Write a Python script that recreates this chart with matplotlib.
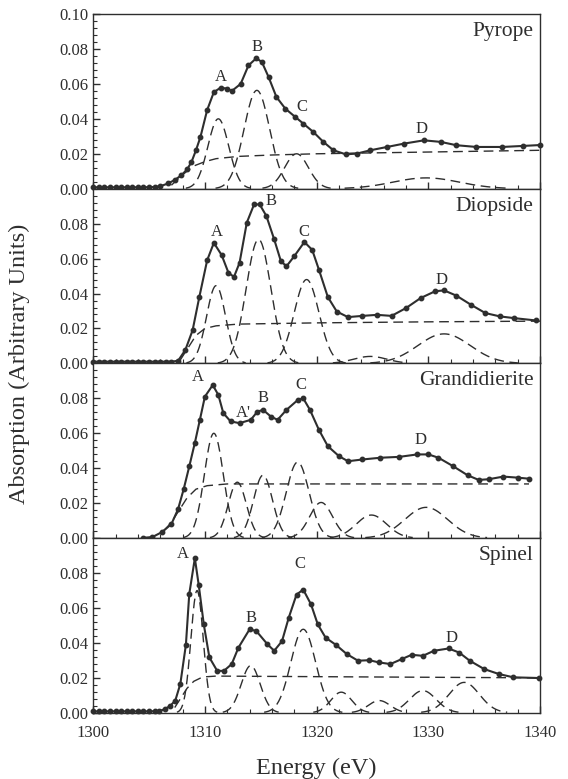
import numpy as np
import matplotlib.pyplot as plt
from matplotlib.ticker import MultipleLocator, FormatStrFormatter

plt.rcParams['font.family'] = ['Liberation Serif', 'DejaVu Serif']

minerals = ["Pyrope", "Diopside", "Grandidierite", "Spinel"]

pyrope_e = [1300, 1300.5, 1301, 1301.5, 1302, 1302.5, 1303, 1303.5, 1304, 1304.5, 1305, 1305.5, 1306,
            1306.7, 1307.3, 1307.9, 1308.4, 1308.8, 1309.2, 1309.6, 1310.2, 1310.8, 1311.4, 1312.0, 1312.4,
            1313.2, 1313.9, 1314.6, 1315.1, 1315.7, 1316.4, 1317.2, 1318.1, 1318.8, 1319.7, 1320.6, 1321.5,
            1322.6, 1323.6, 1324.8, 1326.3, 1327.8, 1329.6, 1331.1, 1332.5, 1334.3, 1336.6, 1338.5, 1340]
pyrope_abs = [0.0008, 0.0008, 0.0008, 0.0008, 0.0008, 0.0008, 0.0008, 0.0008, 0.0008, 0.0008, 0.0009, 0.0010, 0.0014,
              0.0030, 0.0050, 0.0077, 0.0110, 0.0153, 0.0220, 0.0296, 0.0450, 0.0553, 0.0578, 0.0573, 0.0559,
              0.0600, 0.0706, 0.0747, 0.0725, 0.0639, 0.0525, 0.0458, 0.0410, 0.0373, 0.0325, 0.0268, 0.0220,
              0.0197, 0.0201, 0.0220, 0.0239, 0.0258, 0.0277, 0.0268, 0.0249, 0.0239, 0.0239, 0.0245, 0.0250]

diopside_e = [1300, 1300.5, 1301, 1301.5, 1302, 1302.5, 1303, 1303.5, 1304, 1304.5, 1305, 1305.5, 1306, 1306.5,
              1307, 1307.6, 1308.25, 1308.9, 1309.5, 1310.2, 1310.8, 1311.5, 1312.1, 1312.6, 1313.1, 1313.75,
              1314.4, 1314.9, 1315.5, 1316.2, 1316.8, 1317.3, 1318.0, 1318.9, 1319.6, 1320.2, 1321.0, 1321.8,
              1322.8, 1324.1, 1325.4, 1326.7, 1328.0, 1329.3, 1330.6, 1331.4, 1332.5, 1333.8, 1335.1, 1336.4,
              1337.7, 1339.6]
diopside_abs = [0.001, 0.001, 0.001, 0.001, 0.001, 0.001, 0.001, 0.001, 0.001, 0.001, 0.001, 0.001, 0.001, 0.001,
                0.001, 0.0015, 0.0077, 0.019, 0.038, 0.059, 0.069, 0.062, 0.052, 0.0495, 0.0576, 0.0806,
                0.091, 0.091, 0.0844, 0.071, 0.0585, 0.0556, 0.0614, 0.0695, 0.065, 0.0537, 0.038, 0.0297,
                0.0265, 0.0272, 0.0278, 0.0272, 0.0317, 0.0374, 0.0413, 0.0418, 0.0388, 0.0336, 0.0288, 0.0269,
                0.0259, 0.0246]

grandidierite_e = [1304.5, 1305.3, 1306.15, 1307.0, 1307.6, 1308.1, 1308.6, 1309.1, 1309.55, 1310.0, 1310.7,
                   1311.2, 1311.65, 1312.3, 1313.1, 1314.1, 1314.7, 1315.2, 1315.9, 1316.5, 1317.3, 1318.3,
                   1318.8, 1319.4, 1320.2, 1321.0, 1322.0, 1322.8, 1324.1, 1325.7, 1327.4, 1329.0, 1330.0,
                   1330.9, 1332.2, 1333.5, 1334.5, 1335.4, 1336.7, 1338.0, 1339.0]
grandidierite_abs = [0.0002, 0.0006, 0.0034, 0.0080, 0.0166, 0.028, 0.041, 0.0545, 0.0677, 0.081, 0.0876,
                     0.082, 0.0715, 0.0668, 0.0658, 0.0677, 0.0724, 0.0734, 0.0696, 0.0677, 0.0734, 0.079,
                     0.080, 0.0734, 0.062, 0.0526, 0.0469, 0.044, 0.045, 0.046, 0.0465, 0.0479, 0.0479,
                     0.046, 0.0412, 0.036, 0.0333, 0.0337, 0.0352, 0.0346, 0.034]

spinel_e = [1300, 1300.5, 1301, 1301.5, 1302, 1302.5, 1303, 1303.5, 1304, 1304.5, 1305, 1305.5, 1305.9,
            1306.4, 1306.9, 1307.35, 1307.8, 1308.3, 1308.6, 1309.1, 1309.45, 1309.9, 1310.4, 1311.1, 1311.7,
            1312.4, 1313.0, 1314.0, 1314.6, 1315.6, 1316.2, 1316.9, 1317.5, 1318.2, 1318.8, 1319.5, 1320.1,
            1320.8, 1321.7, 1322.7, 1323.7, 1324.7, 1325.6, 1326.6, 1327.6, 1328.5, 1329.5, 1330.5, 1331.8,
            1332.75, 1333.7, 1335.0, 1336.3, 1337.6, 1339.9]
spinel_abs = [0.0008, 0.0008, 0.0008, 0.0008, 0.0008, 0.0008, 0.0008, 0.0008, 0.0008, 0.0008, 0.0008, 0.0009, 0.001,
              0.002, 0.004, 0.007, 0.0165, 0.039, 0.068, 0.0885, 0.073, 0.0506, 0.0317, 0.024, 0.024,
              0.0279, 0.0373, 0.0478, 0.0468, 0.0392, 0.0355, 0.041, 0.0544, 0.0677, 0.0705, 0.062, 0.0506,
              0.043, 0.039, 0.0336, 0.0298, 0.0301, 0.0288, 0.0279, 0.0307, 0.0332, 0.0326, 0.0355, 0.0368,
              0.0345, 0.0298, 0.025, 0.0222, 0.0203, 0.0199]

# fitted gaussian components: centre (eV), height, FWHM (eV)
pyrope_peak_pos = [1311.2, 1314.65, 1318.2, 1329.8]
pyrope_peak_height = [0.040, 0.0563, 0.020, 0.0062]
pyrope_peak_fwhm = [2.2, 2.7, 2.5, 7.0]

diopside_peak_pos = [1311.0, 1314.8, 1319.1, 1324.8, 1331.4]
diopside_peak_height = [0.0445, 0.071, 0.048, 0.004, 0.0169]
diopside_peak_fwhm = [2.0, 2.6, 2.6, 3.5, 5.5]

grandidierite_peak_pos = [1310.8, 1312.9, 1315.2, 1318.3, 1320.4, 1324.9, 1329.8]
grandidierite_peak_height = [0.060, 0.032, 0.036, 0.0435, 0.0204, 0.0132, 0.0176]
grandidierite_peak_fwhm = [2.0, 1.9, 2.0, 2.4, 2.4, 3.2, 4.5]

spinel_peak_pos = [1309.3, 1314.1, 1318.8, 1322.2, 1325.6, 1329.5, 1333.2]
spinel_peak_height = [0.070, 0.027, 0.0478, 0.0118, 0.007, 0.0127, 0.0174]
spinel_peak_fwhm = [1.3, 2.0, 2.6, 2.2, 2.3, 2.8, 3.2]

# background step (dashed line)
pyrope_step_e = [1307.0, 1308.0, 1309.0, 1310.0, 1311.0, 1313.0, 1316.0, 1320.0, 1330.0, 1340.0]
pyrope_step_abs = [0.002, 0.008, 0.013, 0.0155, 0.0172, 0.0185, 0.0193, 0.020, 0.021, 0.022]
diopside_step_e = [1307.8, 1308.5, 1309.2, 1310.0, 1311.0, 1313.0, 1320.0, 1330.0, 1340.0]
diopside_step_abs = [0.002, 0.009, 0.016, 0.020, 0.0215, 0.0225, 0.0232, 0.0238, 0.0242]
grandidierite_step_e = [1306.3, 1307.0, 1307.7, 1308.4, 1309.2, 1310.2, 1312.0, 1339.0]
grandidierite_step_abs = [0.004, 0.009, 0.016, 0.023, 0.028, 0.030, 0.031, 0.031]
spinel_step_e = [1307.3, 1307.8, 1308.4, 1309.0, 1309.8, 1311.0, 1325.0, 1340.0]
spinel_step_abs = [0.003, 0.008, 0.014, 0.018, 0.0205, 0.021, 0.0205, 0.020]

spectra = [(pyrope_e, pyrope_abs), (diopside_e, diopside_abs),
           (grandidierite_e, grandidierite_abs), (spinel_e, spinel_abs)]
peaks = [(pyrope_peak_pos, pyrope_peak_height, pyrope_peak_fwhm),
         (diopside_peak_pos, diopside_peak_height, diopside_peak_fwhm),
         (grandidierite_peak_pos, grandidierite_peak_height, grandidierite_peak_fwhm),
         (spinel_peak_pos, spinel_peak_height, spinel_peak_fwhm)]
steps = [(pyrope_step_e, pyrope_step_abs), (diopside_step_e, diopside_step_abs),
         (grandidierite_step_e, grandidierite_step_abs), (spinel_step_e, spinel_step_abs)]

# feature letters
letters = [
    [("A", 1311.4, 0.064), ("B", 1314.7, 0.081), ("C", 1318.7, 0.047), ("D", 1329.4, 0.034)],
    [("A", 1311.1, 0.075), ("B", 1315.9, 0.093), ("C", 1318.9, 0.075), ("D", 1331.2, 0.048)],
    [("A", 1309.4, 0.092), ("A'", 1313.4, 0.0715), ("B", 1315.2, 0.080), ("C", 1318.6, 0.0876),
     ("D", 1329.3, 0.056)],
    [("A", 1308.0, 0.091), ("B", 1314.1, 0.054), ("C", 1318.5, 0.085), ("D", 1332.1, 0.043)],
]

ink = "#2e2e2e"
dash = (0, (7, 4))

fig, axes = plt.subplots(4, 1, sharex=True, figsize=(5.68, 7.79), dpi=100)
fig.subplots_adjust(left=0.164, right=0.951, top=0.982, bottom=0.085, hspace=0)

grid = np.linspace(1300, 1340, 801)
for i, ax in enumerate(axes):
    # gaussian components
    for c, h, w in zip(*peaks[i]):
        s = w / 2.3548
        g = h * np.exp(-0.5 * ((grid - c) / s) ** 2)
        g[g < 3e-4] = np.nan
        ax.plot(grid, g, ls=dash, color=ink, lw=1.0)
    ax.plot(steps[i][0], steps[i][1], ls=dash, color=ink, lw=1.0)

    e, a = spectra[i]
    ax.plot(e, a, "-", color=ink, lw=1.5, clip_on=False)
    ax.plot(e, a, "o", color=ink, ms=3.2, clip_on=False)

    for txt, x, y in letters[i]:
        ax.text(x, y, txt, ha="center", va="center", fontsize=12, color=ink)
    ax.text(0.985, 0.9, minerals[i], transform=ax.transAxes, ha="right", va="center",
            fontsize=15.5, color=ink)

    ax.set_xlim(1300, 1340)
    ax.set_ylim(0, 0.1)
    if i == 0:
        ax.set_yticks([0, 0.02, 0.04, 0.06, 0.08, 0.10])
    else:
        ax.set_yticks([0, 0.02, 0.04, 0.06, 0.08])
    ax.yaxis.set_major_formatter(FormatStrFormatter("%.2f"))
    ax.yaxis.set_minor_locator(MultipleLocator(0.004))
    ax.xaxis.set_major_locator(MultipleLocator(10))
    ax.xaxis.set_minor_locator(MultipleLocator(2))
    ax.tick_params(which="both", direction="in", top=False, right=False, colors=ink, labelsize=12)
    ax.tick_params(which="major", length=5, width=1)
    ax.tick_params(which="minor", length=3, width=0.8)
    ax.tick_params(axis="x", pad=9)
    for sp in ax.spines.values():
        sp.set_color(ink)
        sp.set_linewidth(1.0)

fig.text(0.035, 0.533, "Absorption (Arbitrary Units)", rotation=90, ha="center", va="center",
         fontsize=17.5, color=ink)
fig.text(0.557, 0.014, "Energy (eV)", ha="center", va="center", fontsize=17.5, color=ink)

fig.savefig("out.png", dpi=100)
